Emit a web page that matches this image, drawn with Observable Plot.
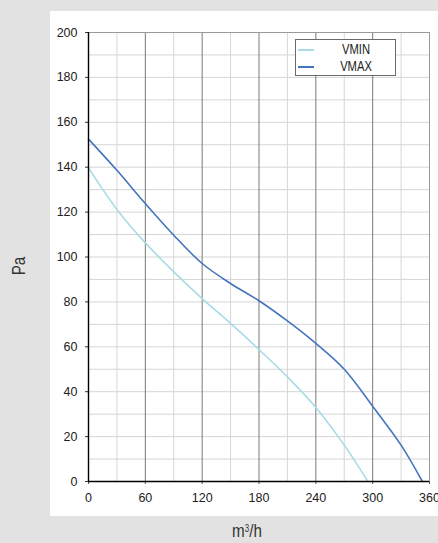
<!DOCTYPE html>
<html>
<head>
<meta charset="utf-8">
<script src="https://cdn.jsdelivr.net/npm/d3@7"></script>
<script src="https://cdn.jsdelivr.net/npm/@observablehq/plot@0.6"></script>
<style>
  html, body { margin: 0; padding: 0; background: #e2e2e2; width: 438px; height: 543px; overflow: hidden; }
  #wrap { position: relative; width: 438px; height: 543px; }
  #panel { position: absolute; left: 50px; top: 11px; width: 388px; height: 505px; background: #fff; }
  #chart { position: absolute; left: 0; top: 0; }
  #legend { position: absolute; left: 295px; top: 39px; width: 99px; height: 35px; background: #fff; border: 1px solid #6a6a6a;
    font-family: "Liberation Sans", Arial, sans-serif; font-size: 14px; color: #222; }
  .row { position: absolute; left: 0; width: 99px; height: 17px; }
  .sw { position: absolute; left: 2px; width: 16px; top: 8px; height: 2px; }
  .lab { position: absolute; left: 35px; width: 50px; text-align: center; top: 0px; line-height: 17px; transform: scaleX(0.8); }
  .axlab { position: absolute; font-family: "Liberation Sans", Arial, sans-serif; font-size: 19px; color: #333; white-space: nowrap; }
</style>
</head>
<body>
<div id="wrap">
  <div id="panel"></div>
  <div id="chart"></div>
  <div id="legend"></div>
  <div class="axlab" id="ylab" style="left: 19px; top: 266px; transform: translate(-50%,-50%) rotate(-90deg) scaleX(0.8);">Pa</div>
  <div class="axlab" id="xlab" style="left: 247px; top: 531px; transform: translate(-50%,-50%) scaleX(0.8);">m<span style="font-size:10px; vertical-align: 5px;">3</span>/h</div>
</div>
<script>
// Data
const vminFlow = [0, 30, 60, 90, 120, 150, 180, 210, 240, 270, 295];
const vminPa   = [139.7, 121.2, 106.3, 93.4, 81.5, 70.4, 58.8, 46.6, 33, 16.2, 0];
const vmaxFlow = [0, 30, 60, 90, 120, 150, 180, 210, 240, 270, 300, 330, 352.5];
const vmaxPa   = [152.5, 138.6, 123.8, 109.7, 97.1, 88.2, 80.5, 71.5, 61.5, 50, 33.5, 16.2, 0];
const seriesNames = ["VMIN", "VMAX"];
const seriesColors = ["#a8dbe7", "#4574bf"];
const xTicks = [0, 60, 120, 180, 240, 300, 360];
const xMinor = [30, 90, 150, 210, 270, 330];
const yTicks = [0, 20, 40, 60, 80, 100, 120, 140, 160, 180, 200];
const yGrid = [10, 20, 30, 40, 50, 60, 70, 80, 90, 100, 110, 120, 130, 140, 150, 160, 170, 180, 190];

const vmin = vminFlow.map((f, i) => ({flow: f, pa: vminPa[i], s: "VMIN"}));
const vmax = vmaxFlow.map((f, i) => ({flow: f, pa: vmaxPa[i], s: "VMAX"}));

const chart = Plot.plot({
  width: 438,
  height: 543,
  marginLeft: 88,
  marginRight: 9,
  marginTop: 32,
  marginBottom: 62,
  style: {background: "transparent", fontFamily: "'Liberation Sans', Arial, sans-serif", fontSize: "12.5px", color: "#222"},
  x: {domain: [0, 360]},
  y: {domain: [0, 200]},
  marks: [
    Plot.ruleY(yGrid, {stroke: "#d6d6d6", strokeWidth: 1}),
    Plot.ruleX(xMinor, {stroke: "#d6d6d6", strokeWidth: 1}),
    Plot.ruleX(xTicks.slice(1, -1), {stroke: "#7a7a7a", strokeWidth: 1}),
    Plot.ruleX([360], {stroke: "#9a9a9a", strokeWidth: 1}),
    Plot.ruleY([200], {stroke: "#9a9a9a", strokeWidth: 1}),
    Plot.line(vmin, {x: "flow", y: "pa", stroke: seriesColors[0], strokeWidth: 1.6, curve: "catmull-rom"}),
    Plot.line(vmax, {x: "flow", y: "pa", stroke: seriesColors[1], strokeWidth: 1.6, curve: "catmull-rom"}),
    Plot.axisX({ticks: xTicks, tickSize: 3, tickPadding: 9, label: null, stroke: "#555"}),
    Plot.axisY({ticks: yTicks, tickSize: 3, tickPadding: 8, label: null, stroke: "#333"}),
    Plot.ruleX([0], {stroke: "#000", strokeWidth: 1.4}),
    Plot.ruleY([0], {stroke: "#000", strokeWidth: 1.4})
  ]
});
document.getElementById("chart").appendChild(chart);

const legend = document.getElementById("legend");
seriesNames.forEach((name, i) => {
  const row = document.createElement("div");
  row.className = "row";
  row.style.top = (i * 17 + 1) + "px";
  const sw = document.createElement("div");
  sw.className = "sw";
  sw.style.background = seriesColors[i];
  const lab = document.createElement("div");
  lab.className = "lab";
  lab.textContent = name;
  row.appendChild(sw);
  row.appendChild(lab);
  legend.appendChild(row);
});
</script>
</body>
</html>
